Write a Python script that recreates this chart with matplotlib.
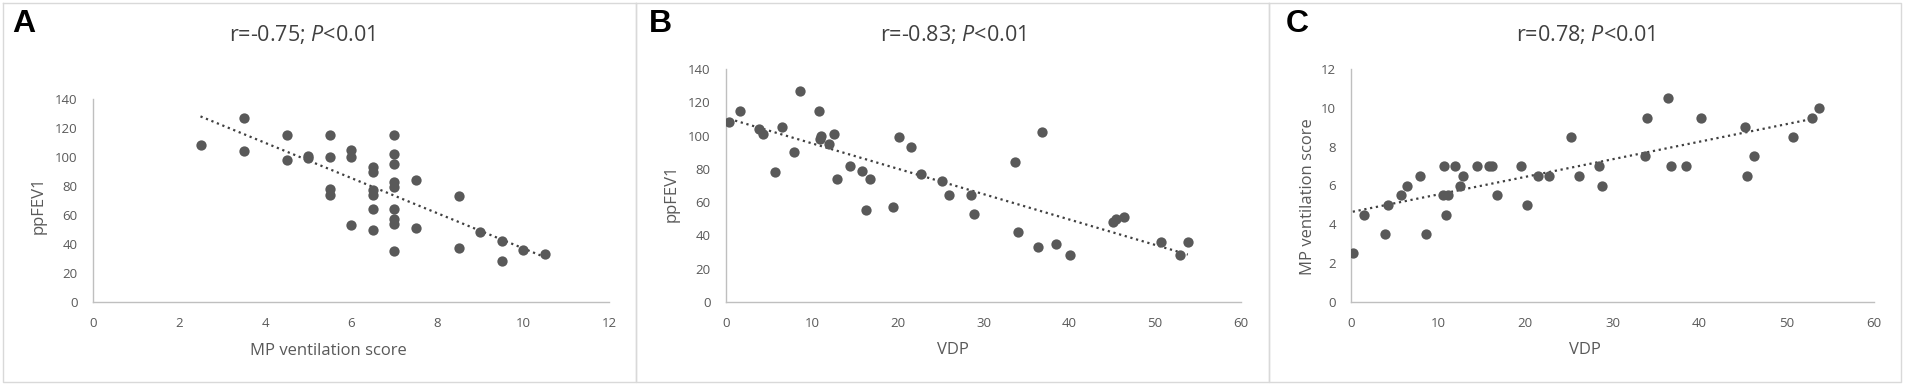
import numpy as np
import matplotlib.pyplot as plt
from matplotlib.lines import Line2D

plt.rcParams['font.family'] = ['Open Sans', 'DejaVu Sans']
plt.rcParams['mathtext.fontset'] = 'custom'
plt.rcParams['mathtext.rm'] = 'Open Sans'
plt.rcParams['mathtext.it'] = 'Open Sans:italic'

# panel A: MP ventilation score vs ppFEV1
a_score = [2.5, 3.5, 3.5, 4.5, 4.5, 5, 5, 5.5, 5.5, 5.5, 5.5, 6, 6, 6,
           6.5, 6.5, 6.5, 6.5, 6.5, 6.5, 7, 7, 7, 7, 7, 7, 7, 7, 7,
           7.5, 7.5, 8.5, 8.5, 9, 9.5, 9.5, 10, 10.5]
a_fev1 = [108, 127, 104, 115, 98, 101, 99, 115, 100, 78, 74, 105, 100, 53,
          93, 90, 77, 74, 64, 50, 115, 102, 95, 83, 79, 64, 57, 54, 35,
          84, 51, 73, 37, 48, 42, 28, 36, 33]
a_trend_x = [2.5, 10.5]
a_trend_y = [128, 31]

# panel B: VDP vs ppFEV1
b_vdp = [0.4, 1.6, 3.9, 4.3, 6.5, 5.7, 7.9, 8.6, 10.8, 11.1, 11.0, 12.0,
         12.6, 12.9, 14.5, 15.9, 16.8, 16.3, 19.5, 20.1, 21.5, 22.7, 25.2,
         26.0, 28.6, 28.9, 33.7, 34.0, 36.8, 36.4, 38.4, 40.1, 45.1, 45.4,
         46.4, 50.7, 52.9, 53.8]
b_fev1 = [108, 115, 104, 101, 105, 78, 90, 127, 115, 100, 98, 95,
          101, 74, 82, 79, 74, 55, 57, 99, 93, 77, 73,
          64, 64, 53, 84, 42, 102, 33, 35, 28, 48, 50,
          51, 36, 28, 36]
b_trend_x = [0.4, 53.8]
b_trend_y = [110, 28.5]

# panel C: VDP vs MP ventilation score
c_vdp = [0.2, 1.5, 3.9, 4.3, 5.7, 6.4, 7.9, 8.6, 10.7, 10.6, 11.1, 10.9,
         11.9, 12.5, 12.9, 14.5, 15.8, 16.2, 16.8, 19.5, 20.2, 21.4, 22.7,
         25.2, 26.1, 28.5, 28.8, 33.7, 34.0, 36.4, 36.7, 38.4, 40.1, 45.2,
         45.4, 46.2, 50.7, 52.9, 53.7]
c_score = [2.5, 4.5, 3.5, 5, 5.5, 6, 6.5, 3.5, 7, 5.5, 5.5, 4.5,
           7, 6, 6.5, 7, 7, 7, 5.5, 7, 5, 6.5, 6.5,
           8.5, 6.5, 7, 6, 7.5, 9.5, 10.5, 7, 7, 9.5, 9,
           6.5, 7.5, 8.5, 9.5, 10]
c_trend_x = [0.2, 53.7]
c_trend_y = [4.65, 9.5]

W, H = 1905, 386
fig = plt.figure(figsize=(W / 100, H / 100), dpi=100)


def fx(px):
    return px / W


def fy(py):
    return 1 - py / H


def make_panel(box, xs, ys, tx, ty, xlim, xstep, ylim, ystep,
               xlabel, ylabel, title, letter, pos):
    left, top, right, bottom = box
    ax = fig.add_axes([fx(left), fy(bottom), fx(right - left), (bottom - top) / H])
    ax.scatter(xs, ys, s=55, color='#595959', zorder=3, linewidths=0)
    ax.plot(tx, ty, color='#404040', linestyle=':', linewidth=1.6, zorder=2)
    ax.set_xlim(*xlim)
    ax.set_ylim(*ylim)
    ax.set_xticks(np.arange(xlim[0], xlim[1] + 0.1, xstep))
    ax.set_yticks(np.arange(ylim[0], ylim[1] + 0.1, ystep))
    ax.tick_params(length=0, labelsize=9.5, labelcolor='#595959', pad=11)
    for s in ['top', 'right']:
        ax.spines[s].set_visible(False)
    for s in ['left', 'bottom']:
        ax.spines[s].set_color('#bfbfbf')
        ax.spines[s].set_linewidth(1)
    ax.set_xlabel(xlabel, fontsize=12, color='#595959')
    ax.set_ylabel(ylabel, fontsize=12, color='#595959')
    ax.xaxis.set_label_coords(fx(pos['xl'][0]), fy(pos['xl'][1]), transform=fig.transFigure)
    ax.yaxis.set_label_coords(fx(pos['yl'][0]), fy(pos['yl'][1]), transform=fig.transFigure)
    ax.xaxis.label.set_va('center')
    ax.yaxis.label.set_va('center')
    fig.text(fx(pos['t'][0]), fy(pos['t'][1]), title, fontsize=15.5,
             color='#404040', ha='center', va='center')
    fig.text(fx(pos['l'][0]), fy(pos['l'][1]), letter, fontsize=23,
             fontweight='bold', family='Liberation Sans', ha='center', va='center')
    return ax


make_panel((93, 99, 609, 302), a_score, a_fev1, a_trend_x, a_trend_y,
           (0, 12), 2, (0, 140), 20, 'MP ventilation score', 'ppFEV1',
           r'r=-0.75; $\mathit{P}$<0.01', 'A',
           {'xl': (328, 351), 'yl': (39, 205), 't': (302, 35), 'l': (24, 24)})
make_panel((726, 69, 1241, 302), b_vdp, b_fev1, b_trend_x, b_trend_y,
           (0, 60), 10, (0, 140), 20, 'VDP', 'ppFEV1',
           r'r=-0.83; $\mathit{P}$<0.01', 'B',
           {'xl': (953, 350), 'yl': (672, 193), 't': (953, 34), 'l': (660, 24)})
make_panel((1351, 69, 1874, 302), c_vdp, c_score, c_trend_x, c_trend_y,
           (0, 60), 10, (0, 12), 2, 'VDP', 'MP ventilation score',
           r'r=0.78; $\mathit{P}$<0.01', 'C',
           {'xl': (1585, 350), 'yl': (1308, 197), 't': (1586, 35), 'l': (1297, 24)})

# light gray frames round each panel
for x0, x1 in [(3, 636), (636, 1269), (1269, 1901)]:
    xs = [fx(x0), fx(x1), fx(x1), fx(x0), fx(x0)]
    ys = [fy(3), fy(3), fy(382), fy(382), fy(3)]
    fig.add_artist(Line2D(xs, ys, color='#d9d9d9', linewidth=1))

fig.savefig('out.png', dpi=100)
